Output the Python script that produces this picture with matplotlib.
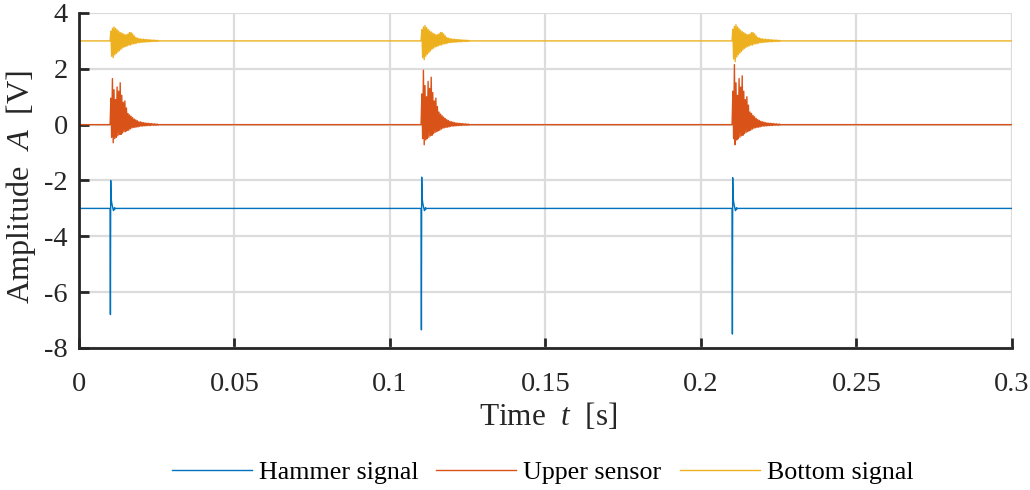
import numpy as np
import matplotlib
matplotlib.use("Agg")
import matplotlib.pyplot as plt

plt.rcParams["font.family"] = ["Liberation Serif", "DejaVu Serif"]
plt.rcParams["mathtext.fontset"] = "custom"
plt.rcParams["mathtext.rm"] = "Liberation Serif"
plt.rcParams["mathtext.it"] = "Liberation Serif:italic"
plt.rcParams["axes.unicode_minus"] = False

# impact times [s] and sample steps
impact_times = [0.0100, 0.1100, 0.2100]
dt_sensor = 0.00025
dt_hammer = 0.0001

# vertical offsets used to stack the three traces [V]
offset_hammer = -3.0
offset_upper = 0.0
offset_bottom = 3.0

# hammer signal around each impact
hammer_1 = [0.0, -3.8, 1.0, 0.45, 0.3, 0.22, 0.15, 0.1, 0.05, 0.0, -0.05, -0.08,
            -0.05, -0.02, 0.02, -0.03, 0.01, 0.0]
hammer_2 = [0.0, -4.35, 1.12, 0.5, 0.32, 0.22, 0.15, 0.1, 0.05, 0.0, -0.05, -0.08,
            -0.05, -0.02, 0.02, -0.03, 0.01, 0.0]
hammer_3 = [0.0, -4.5, 1.1, 0.5, 0.33, 0.23, 0.16, 0.1, 0.05, 0.0, -0.05, -0.08,
            -0.05, -0.02, 0.02, -0.03, 0.01, 0.0]

# upper sensor bursts
upper_1 = [0.0, 0.95, -0.45, 1.65, -0.65, 1.25, -0.5, 0.9, -0.45, 1.35, -0.4, 1.2,
           -0.35, 1.5, -0.35, 1.05, -0.3, 0.8, -0.25, 0.85, -0.25, 0.6, -0.2, 0.4,
           -0.2, 0.35, -0.15, 0.3, -0.12, 0.25, -0.1, 0.2, -0.1, 0.17, -0.08, 0.14,
           -0.08, 0.1, -0.06, 0.1, -0.05, 0.08, -0.05, 0.07, -0.04, 0.06, -0.04, 0.05,
           -0.03, 0.05, -0.03, 0.04, -0.03, 0.04, -0.02, 0.03, -0.02, 0.03, -0.02, 0.02,
           -0.02, 0.02, -0.01, 0.0]
upper_2 = [0.0, 1.1, -0.5, 1.95, -0.72, 1.4, -0.55, 1.0, -0.5, 1.55, -0.45, 1.3,
           -0.4, 1.7, -0.38, 1.15, -0.32, 0.85, -0.28, 0.95, -0.25, 0.65, -0.22, 0.45,
           -0.2, 0.38, -0.16, 0.32, -0.13, 0.27, -0.11, 0.22, -0.1, 0.18, -0.09, 0.15,
           -0.08, 0.12, -0.06, 0.1, -0.05, 0.09, -0.05, 0.07, -0.04, 0.06, -0.04, 0.05,
           -0.03, 0.05, -0.03, 0.04, -0.03, 0.04, -0.02, 0.03, -0.02, 0.03, -0.02, 0.02,
           -0.02, 0.02, -0.01, 0.0]
upper_3 = [0.0, 1.2, -0.5, 2.15, -0.72, 1.5, -0.55, 1.05, -0.5, 1.65, -0.45, 1.35,
           -0.4, 1.75, -0.38, 1.2, -0.32, 0.9, -0.28, 1.0, -0.25, 0.7, -0.22, 0.45,
           -0.2, 0.4, -0.16, 0.33, -0.13, 0.28, -0.11, 0.22, -0.1, 0.18, -0.09, 0.15,
           -0.08, 0.12, -0.06, 0.1, -0.05, 0.09, -0.05, 0.07, -0.04, 0.06, -0.04, 0.05,
           -0.03, 0.05, -0.03, 0.04, -0.03, 0.04, -0.02, 0.03, -0.02, 0.03, -0.02, 0.02,
           -0.02, 0.02, -0.01, 0.0]

# bottom signal bursts
bottom_1 = [0.0, 0.35, -0.55, 0.45, -0.6, 0.5, -0.5, 0.45, -0.45, 0.4, -0.4, 0.35,
            -0.35, 0.3, -0.3, 0.28, -0.25, 0.25, -0.22, 0.22, -0.2, 0.22, -0.18, 0.25,
            -0.15, 0.3, -0.15, 0.3, -0.12, 0.25, -0.1, 0.18, -0.1, 0.12, -0.08, 0.1,
            -0.06, 0.08, -0.06, 0.07, -0.05, 0.06, -0.05, 0.06, -0.04, 0.05, -0.04, 0.05,
            -0.03, 0.04, -0.03, 0.04, -0.03, 0.03, -0.02, 0.03, -0.02, 0.03, -0.02, 0.02,
            -0.02, 0.02, -0.01, 0.0]
bottom_2 = [0.0, 0.4, -0.6, 0.5, -0.67, 0.55, -0.55, 0.48, -0.48, 0.42, -0.42, 0.36,
            -0.36, 0.32, -0.3, 0.28, -0.26, 0.25, -0.22, 0.22, -0.2, 0.22, -0.18, 0.25,
            -0.15, 0.3, -0.15, 0.3, -0.12, 0.25, -0.1, 0.18, -0.1, 0.12, -0.08, 0.1,
            -0.06, 0.08, -0.06, 0.07, -0.05, 0.06, -0.05, 0.06, -0.04, 0.05, -0.04, 0.05,
            -0.03, 0.04, -0.03, 0.04, -0.03, 0.03, -0.02, 0.03, -0.02, 0.03, -0.02, 0.02,
            -0.02, 0.02, -0.01, 0.0]
bottom_3 = [0.0, 0.42, -0.65, 0.52, -0.74, 0.58, -0.58, 0.5, -0.5, 0.44, -0.44, 0.38,
            -0.38, 0.33, -0.32, 0.3, -0.27, 0.26, -0.23, 0.23, -0.2, 0.22, -0.18, 0.25,
            -0.15, 0.3, -0.15, 0.3, -0.12, 0.25, -0.1, 0.18, -0.1, 0.12, -0.08, 0.1,
            -0.06, 0.08, -0.06, 0.07, -0.05, 0.06, -0.05, 0.06, -0.04, 0.05, -0.04, 0.05,
            -0.03, 0.04, -0.03, 0.04, -0.03, 0.03, -0.02, 0.03, -0.02, 0.03, -0.02, 0.02,
            -0.02, 0.02, -0.01, 0.0]

t_end = 0.3


def build(bursts, dt, offset):
    t = [0.0]
    y = [0.0]
    for t0, b in zip(impact_times, bursts):
        t.extend(t0 + dt * np.arange(len(b)))
        y.extend(b)
    t.append(t_end)
    y.append(0.0)
    return np.array(t), np.array(y) + offset


t_h, y_h = build([hammer_1, hammer_2, hammer_3], dt_hammer, offset_hammer)
t_u, y_u = build([upper_1, upper_2, upper_3], dt_sensor, offset_upper)
t_b, y_b = build([bottom_1, bottom_2, bottom_3], dt_sensor, offset_bottom)

fig = plt.figure(figsize=(10.3, 4.9), dpi=100)
ax = fig.add_axes([0.0767, 0.2898, 0.9058, 0.6837])

ax.plot(t_h, y_h, color="#0072BD", lw=1.0, label="Hammer signal")
ax.plot(t_u, y_u, color="#D95319", lw=1.0, label="Upper sensor")
ax.plot(t_b, y_b, color="#EDB120", lw=1.0, label="Bottom signal")

ax.set_xlim(0, 0.3)
ax.set_ylim(-8, 4)
ax.set_xticks([0, 0.05, 0.1, 0.15, 0.2, 0.25, 0.3])
ax.set_xticklabels(["0", "0.05", "0.1", "0.15", "0.2", "0.25", "0.3"])
ax.set_yticks([-8, -6, -4, -2, 0, 2, 4])
ax.grid(True, color="#dcdcdc", lw=1.6)
ax.set_axisbelow(True)
for s in ["top", "right"]:
    ax.spines[s].set_visible(False)
for s in ["left", "bottom"]:
    ax.spines[s].set_color("#262626")
    ax.spines[s].set_linewidth(2.0)
ax.tick_params(direction="in", length=7, width=2.0, color="#262626",
               labelsize=20.5, labelcolor="#262626")
ax.tick_params(axis="x", pad=17)
ax.tick_params(axis="y", pad=8)

ax.set_xlabel(r"Time  $t$  [s]", fontsize=22.5, color="#262626")
ax.set_ylabel(r"Amplitude  $A$  [V]", fontsize=23.2, color="#262626")
ax.xaxis.set_label_coords(0.503, -0.158)
ax.yaxis.set_label_coords(-0.044, 0.48)

fig.legend(loc="center", bbox_to_anchor=(0.5267, 0.035), ncol=3, frameon=False,
           fontsize=18.7, handlelength=3.08, columnspacing=0.7, handletextpad=0.27)

fig.savefig("out.png", dpi=100)
